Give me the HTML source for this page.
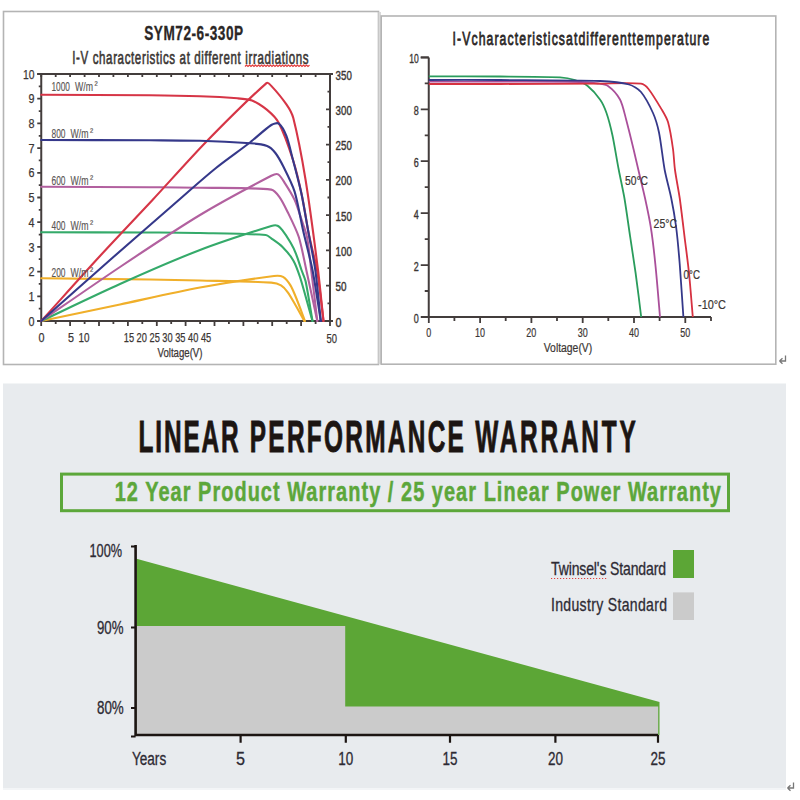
<!DOCTYPE html>
<html><head><meta charset="utf-8"><style>
html,body{margin:0;padding:0;width:800px;height:800px;overflow:hidden;background:#fff;position:relative}
</style></head><body>
<svg width="800" height="800" viewBox="0 0 800 800" style="position:absolute;left:0;top:0">
<rect x="0" y="0" width="800" height="800" fill="#ffffff"/>
<rect x="3.5" y="11.5" width="375" height="353" fill="#fff" stroke="#b4b4b4" stroke-width="1.6"/>
<rect x="378.5" y="12" width="2.5" height="352" fill="#d9d9d9"/>
<rect x="381.2" y="16" width="394.6" height="348.2" fill="#fff" stroke="#b4b4b4" stroke-width="1.6"/>
<rect x="3" y="383.5" width="783" height="404.5" fill="#e8ebee"/>
<rect x="3" y="788" width="783" height="2" fill="#f3f5f7"/>
<g stroke="#433d3c" stroke-width="2.0" fill="none">
<path d="M41.25,74.0 V321.0 M37.25,74.0 H333.0 M37.25,321.0 H333.0 M330.0,74.0 V321.0"/>
</g>
<path d="M41.2,74.0 v3 M41.2,321.0 v5 M55.7,74.0 v3 M55.7,321.0 v3 M70.1,74.0 v3 M70.1,321.0 v5 M84.6,74.0 v3 M84.6,321.0 v3 M99.0,74.0 v3 M99.0,321.0 v5 M113.4,74.0 v3 M113.4,321.0 v3 M127.9,74.0 v3 M127.9,321.0 v5 M142.3,74.0 v3 M142.3,321.0 v3 M156.8,74.0 v3 M156.8,321.0 v5 M171.2,74.0 v3 M171.2,321.0 v3 M185.6,74.0 v3 M185.6,321.0 v5 M200.1,74.0 v3 M200.1,321.0 v3 M214.5,74.0 v3 M214.5,321.0 v5 M228.9,74.0 v3 M228.9,321.0 v3 M243.4,74.0 v3 M243.4,321.0 v5 M257.8,74.0 v3 M257.8,321.0 v3 M272.2,74.0 v3 M272.2,321.0 v5 M286.7,74.0 v3 M286.7,321.0 v3 M301.1,74.0 v3 M301.1,321.0 v5 M315.6,74.0 v3 M315.6,321.0 v3 M330.0,74.0 v3 M330.0,321.0 v5 M37.25,321.0 h4 M38.75,308.6 h2.5 M37.25,296.3 h4 M38.75,283.9 h2.5 M37.25,271.6 h4 M38.75,259.2 h2.5 M37.25,246.9 h4 M38.75,234.6 h2.5 M37.25,222.2 h4 M38.75,209.8 h2.5 M37.25,197.5 h4 M38.75,185.2 h2.5 M37.25,172.8 h4 M38.75,160.4 h2.5 M37.25,148.1 h4 M38.75,135.8 h2.5 M37.25,123.4 h4 M38.75,111.1 h2.5 M37.25,98.7 h4 M38.75,86.3 h2.5 M37.25,74.0 h4 M326.0,321.0 h4 M327.5,303.4 h2.5 M326.0,285.7 h4 M327.5,268.1 h2.5 M326.0,250.4 h4 M327.5,232.8 h2.5 M326.0,215.1 h4 M327.5,197.5 h2.5 M326.0,179.9 h4 M327.5,162.2 h2.5 M326.0,144.6 h4 M327.5,126.9 h2.5 M326.0,109.3 h4 M327.5,91.6 h2.5 M326.0,74.0 h4" stroke="#433d3c" stroke-width="1.8" fill="none"/>
<defs><filter id="bl" x="-5%" y="-5%" width="110%" height="110%"><feGaussianBlur stdDeviation="0.4"/></filter><filter id="bl2" x="-5%" y="-5%" width="110%" height="110%"><feGaussianBlur stdDeviation="0.35"/></filter></defs>
<g fill="none" stroke-width="2.1" stroke-linejoin="round" stroke-linecap="round" filter="url(#bl)">
<path d="M41.2,321.0 C62.0,316.6 99.2,308.9 120.0,304.5 C141.1,300.0 178.8,291.4 200.0,287.5 C219.4,283.9 254.4,278.5 274.0,276.0 C276.4,275.7 280.9,275.7 283.0,276.9 C285.6,278.4 288.9,282.8 290.5,285.4 C292.7,289.0 295.4,296.1 297.0,300.0 C299.2,305.5 302.9,315.5 305.0,321.0" stroke="#f0af2a"/>
<path d="M41.2,278.3 C70.0,278.6 121.3,279.1 150.0,279.5 C163.2,279.7 186.8,280.2 200.0,280.5 C218.8,281.0 252.5,281.5 271.3,282.6 C274.0,282.8 278.7,284.0 281.0,285.4 C283.2,286.7 286.3,290.2 287.8,292.3 C290.3,295.7 293.9,302.3 296.0,306.0 C298.3,309.9 302.1,317.0 304.3,321.0" stroke="#f0af2a"/>
<path d="M41.2,321.0 C62.0,311.2 99.0,293.4 120.0,284.0 C140.9,274.6 178.6,258.2 200.0,250.0 C218.5,242.9 252.3,231.9 271.3,226.0 C272.9,225.5 276.0,225.1 277.5,225.7 C279.1,226.3 281.2,228.8 282.3,230.2 C284.7,233.3 288.5,239.1 290.5,242.5 C292.2,245.4 294.8,250.7 296.0,253.8 C297.7,258.0 300.0,265.7 301.5,270.0 C302.5,273.0 304.9,278.2 305.6,281.3 C307.8,291.7 310.7,310.5 312.5,321.0" stroke="#34aa6a"/>
<path d="M41.2,232.3 C70.0,232.4 121.3,232.4 150.0,232.5 C163.2,232.6 186.8,232.7 200.0,233.0 C217.4,233.4 248.5,233.7 265.8,235.0 C267.5,235.1 269.9,237.4 271.3,238.4 C274.3,240.5 279.7,244.1 282.3,246.7 C285.6,250.0 291.0,256.4 293.3,260.4 C295.7,264.5 298.5,272.5 300.0,277.0 C302.9,286.0 307.2,302.4 309.8,311.5 C310.5,314.0 311.8,318.5 312.5,321.0" stroke="#34aa6a"/>
<path d="M41.2,321.0 C62.0,306.7 99.0,281.0 120.0,267.0 C140.9,253.0 178.4,228.0 200.0,215.0 C218.4,203.9 252.2,185.7 271.3,175.8 C272.9,175.0 276.5,173.5 278.1,174.4 C280.7,175.9 283.4,180.9 285.0,183.4 C287.7,187.6 292.5,195.3 294.6,199.9 C296.7,204.5 299.4,213.2 301.0,218.0 C302.7,223.0 306.0,231.8 307.0,237.0 C308.7,245.6 310.1,261.3 311.2,270.0 C312.9,283.5 315.7,307.5 317.3,321.0" stroke="#b2619f"/>
<path d="M41.2,186.8 C70.0,186.9 121.3,187.0 150.0,187.2 C163.2,187.3 186.8,187.4 200.0,187.7 C218.8,188.1 252.6,187.4 271.3,189.6 C274.2,189.9 277.8,194.7 279.5,197.1 C282.2,200.8 285.8,208.2 287.8,212.3 C290.9,218.7 296.6,230.2 298.8,237.0 C301.5,245.5 304.4,261.3 306.3,270.0 C309.3,283.5 314.4,307.5 317.3,321.0" stroke="#b2619f"/>
<path d="M41.2,321.0 C56.8,303.8 84.3,273.0 100.0,256.0 C113.7,241.1 138.7,214.8 152.5,200.0 C166.7,184.7 191.5,156.9 206.0,142.0 C221.6,126.0 249.8,97.8 266.5,83.1 C267.4,82.3 269.8,84.2 270.6,85.1 C275.1,89.9 282.7,99.0 286.4,104.4 C288.7,107.7 292.3,114.2 293.3,118.1 C297.4,134.2 302.9,163.6 305.6,180.0 C309.4,203.7 315.0,246.2 318.0,270.0 C319.7,283.4 322.0,307.5 323.5,321.0" stroke="#d63646"/>
<path d="M41.2,94.7 C70.0,94.9 121.3,95.0 150.0,95.3 C163.2,95.4 186.8,95.8 200.0,96.3 C209.9,96.6 227.6,97.5 237.5,98.3 C241.4,98.6 248.4,99.1 252.0,100.5 C256.4,102.2 263.5,106.9 267.1,109.9 C270.7,112.9 276.7,118.9 278.8,123.0 C283.6,132.3 289.8,150.0 293.0,160.0 C296.0,169.3 300.0,186.4 302.0,196.0 C304.2,206.2 306.9,224.7 309.0,235.0 C310.9,244.3 315.4,260.7 317.0,270.0 C319.3,283.4 321.8,307.5 323.5,321.0" stroke="#d63646"/>
<path d="M41.2,321.0 C59.4,304.9 91.8,276.0 110.0,260.0 C128.1,244.1 160.6,215.8 178.8,200.0 C188.5,191.5 205.9,176.1 216.0,168.0 C224.7,161.0 241.1,149.4 250.0,142.5 C255.7,138.0 265.2,129.0 271.3,125.0 C273.0,123.9 277.2,122.4 278.8,123.6 C281.9,125.9 285.0,132.4 286.4,136.0 C288.8,142.1 291.3,153.6 293.0,160.0 C295.3,169.0 299.6,185.0 301.5,194.0 C303.5,203.4 306.3,220.5 308.0,230.0 C309.9,240.6 313.8,259.4 315.3,270.0 C317.2,283.4 319.3,307.5 320.8,321.0" stroke="#36398a"/>
<path d="M41.2,140.0 C70.0,140.1 121.3,140.2 150.0,140.3 C163.2,140.4 186.8,140.4 200.0,140.8 C213.4,141.1 237.3,142.3 250.6,143.3 C255.0,143.6 263.0,144.4 267.1,146.0 C269.8,147.0 273.6,150.7 275.4,153.0 C278.0,156.4 281.7,163.2 283.6,167.0 C286.8,173.4 292.5,184.8 294.6,191.6 C297.7,201.5 300.7,219.9 303.0,230.0 C305.4,240.6 310.4,259.3 312.5,270.0 C315.1,283.4 318.6,307.5 320.8,321.0" stroke="#36398a"/>
</g>
<text transform="translate(144.2,40.2) scale(0.7,1)" x="0" y="0" font-family='"Liberation Sans", sans-serif' font-size="19.5" font-weight="bold" fill="#2b2726" text-anchor="start" textLength="141.43" lengthAdjust="spacing" stroke="#2b2726" stroke-width="0.3">SYM72-6-330P</text>
<text transform="translate(72.2,63.5) scale(0.66,1)" x="0" y="0" font-family='"Liberation Sans", sans-serif' font-size="17.5" font-weight="normal" fill="#3a3634" text-anchor="start" textLength="358.18" lengthAdjust="spacing" stroke="#3a3634" stroke-width="0.6">I-V characteristics at different irradiations</text>
<path d="M245,66.5 l1.5,-1.4 l1.5,1.4 l1.5,-1.4 l1.5,1.4 l1.5,-1.4 l1.5,1.4 l1.5,-1.4 l1.5,1.4 l1.5,-1.4 l1.5,1.4 l1.5,-1.4 l1.5,1.4 l1.5,-1.4 l1.5,1.4 l1.5,-1.4 l1.5,1.4 l1.5,-1.4 l1.5,1.4 l1.5,-1.4 l1.5,1.4 l1.5,-1.4 l1.5,1.4 l1.5,-1.4 l1.5,1.4 l1.5,-1.4 l1.5,1.4 l1.5,-1.4 l1.5,1.4 l1.5,-1.4 l1.5,1.4 l1.5,-1.4 l1.5,1.4 l1.5,-1.4 l1.5,1.4 l1.5,-1.4 l1.5,1.4 l1.5,-1.4 l1.5,1.4 l1.5,-1.4 l1.5,1.4 l1.5,-1.4 l1.5,1.4 l1.5,-1.4" stroke="#e23a3a" stroke-width="1.2" fill="none"/>
<text x="34.5" y="325.6" font-family='"Liberation Sans", sans-serif' font-size="12.5" font-weight="normal" fill="#3b3634" text-anchor="end" textLength="6" lengthAdjust="spacingAndGlyphs" stroke="#3b3634" stroke-width="0.25">0</text>
<text x="34.5" y="300.90000000000003" font-family='"Liberation Sans", sans-serif' font-size="12.5" font-weight="normal" fill="#3b3634" text-anchor="end" textLength="6" lengthAdjust="spacingAndGlyphs" stroke="#3b3634" stroke-width="0.25">1</text>
<text x="34.5" y="276.20000000000005" font-family='"Liberation Sans", sans-serif' font-size="12.5" font-weight="normal" fill="#3b3634" text-anchor="end" textLength="6" lengthAdjust="spacingAndGlyphs" stroke="#3b3634" stroke-width="0.25">2</text>
<text x="34.5" y="251.5" font-family='"Liberation Sans", sans-serif' font-size="12.5" font-weight="normal" fill="#3b3634" text-anchor="end" textLength="6" lengthAdjust="spacingAndGlyphs" stroke="#3b3634" stroke-width="0.25">3</text>
<text x="34.5" y="226.79999999999998" font-family='"Liberation Sans", sans-serif' font-size="12.5" font-weight="normal" fill="#3b3634" text-anchor="end" textLength="6" lengthAdjust="spacingAndGlyphs" stroke="#3b3634" stroke-width="0.25">4</text>
<text x="34.5" y="202.1" font-family='"Liberation Sans", sans-serif' font-size="12.5" font-weight="normal" fill="#3b3634" text-anchor="end" textLength="6" lengthAdjust="spacingAndGlyphs" stroke="#3b3634" stroke-width="0.25">5</text>
<text x="34.5" y="177.4" font-family='"Liberation Sans", sans-serif' font-size="12.5" font-weight="normal" fill="#3b3634" text-anchor="end" textLength="6" lengthAdjust="spacingAndGlyphs" stroke="#3b3634" stroke-width="0.25">6</text>
<text x="34.5" y="152.7" font-family='"Liberation Sans", sans-serif' font-size="12.5" font-weight="normal" fill="#3b3634" text-anchor="end" textLength="6" lengthAdjust="spacingAndGlyphs" stroke="#3b3634" stroke-width="0.25">7</text>
<text x="34.5" y="128.0" font-family='"Liberation Sans", sans-serif' font-size="12.5" font-weight="normal" fill="#3b3634" text-anchor="end" textLength="6" lengthAdjust="spacingAndGlyphs" stroke="#3b3634" stroke-width="0.25">8</text>
<text x="34.5" y="103.29999999999998" font-family='"Liberation Sans", sans-serif' font-size="12.5" font-weight="normal" fill="#3b3634" text-anchor="end" textLength="6" lengthAdjust="spacingAndGlyphs" stroke="#3b3634" stroke-width="0.25">9</text>
<text x="34.5" y="78.6" font-family='"Liberation Sans", sans-serif' font-size="12.5" font-weight="normal" fill="#3b3634" text-anchor="end" textLength="11.5" lengthAdjust="spacingAndGlyphs" stroke="#3b3634" stroke-width="0.25">10</text>
<text x="335.6" y="326.5" font-family='"Liberation Sans", sans-serif' font-size="12.5" font-weight="normal" fill="#3b3634" text-anchor="start" textLength="6" lengthAdjust="spacingAndGlyphs" stroke="#3b3634" stroke-width="0.4">0</text>
<text x="335.6" y="291.2142857142857" font-family='"Liberation Sans", sans-serif' font-size="12.5" font-weight="normal" fill="#3b3634" text-anchor="start" textLength="11" lengthAdjust="spacingAndGlyphs" stroke="#3b3634" stroke-width="0.4">50</text>
<text x="335.6" y="255.92857142857144" font-family='"Liberation Sans", sans-serif' font-size="12.5" font-weight="normal" fill="#3b3634" text-anchor="start" textLength="16.2" lengthAdjust="spacingAndGlyphs" stroke="#3b3634" stroke-width="0.4">100</text>
<text x="335.6" y="220.64285714285714" font-family='"Liberation Sans", sans-serif' font-size="12.5" font-weight="normal" fill="#3b3634" text-anchor="start" textLength="16.2" lengthAdjust="spacingAndGlyphs" stroke="#3b3634" stroke-width="0.4">150</text>
<text x="335.6" y="185.35714285714286" font-family='"Liberation Sans", sans-serif' font-size="12.5" font-weight="normal" fill="#3b3634" text-anchor="start" textLength="16.2" lengthAdjust="spacingAndGlyphs" stroke="#3b3634" stroke-width="0.4">200</text>
<text x="335.6" y="150.07142857142858" font-family='"Liberation Sans", sans-serif' font-size="12.5" font-weight="normal" fill="#3b3634" text-anchor="start" textLength="16.2" lengthAdjust="spacingAndGlyphs" stroke="#3b3634" stroke-width="0.4">250</text>
<text x="335.6" y="114.78571428571428" font-family='"Liberation Sans", sans-serif' font-size="12.5" font-weight="normal" fill="#3b3634" text-anchor="start" textLength="16.2" lengthAdjust="spacingAndGlyphs" stroke="#3b3634" stroke-width="0.4">300</text>
<text x="335.6" y="79.5" font-family='"Liberation Sans", sans-serif' font-size="12.5" font-weight="normal" fill="#3b3634" text-anchor="start" textLength="16.2" lengthAdjust="spacingAndGlyphs" stroke="#3b3634" stroke-width="0.4">350</text>
<text x="41.5" y="341.5" font-family='"Liberation Sans", sans-serif' font-size="12.5" font-weight="normal" fill="#3b3634" text-anchor="middle" textLength="6" lengthAdjust="spacingAndGlyphs" stroke="#3b3634" stroke-width="0.25">0</text>
<text x="71" y="341.5" font-family='"Liberation Sans", sans-serif' font-size="12.5" font-weight="normal" fill="#3b3634" text-anchor="middle" textLength="6" lengthAdjust="spacingAndGlyphs" stroke="#3b3634" stroke-width="0.25">5</text>
<text x="84" y="341.5" font-family='"Liberation Sans", sans-serif' font-size="12.5" font-weight="normal" fill="#3b3634" text-anchor="middle" textLength="11" lengthAdjust="spacingAndGlyphs" stroke="#3b3634" stroke-width="0.25">10</text>
<text x="123.75" y="341.5" font-family='"Liberation Sans", sans-serif' font-size="12.5" font-weight="normal" fill="#3b3634" text-anchor="start" textLength="87.5" lengthAdjust="spacingAndGlyphs" stroke="#3b3634" stroke-width="0.25">15 20 25 30 35 40 45</text>
<text x="331.8" y="342.5" font-family='"Liberation Sans", sans-serif' font-size="12.5" font-weight="normal" fill="#3b3634" text-anchor="middle" textLength="10.5" lengthAdjust="spacingAndGlyphs" stroke="#3b3634" stroke-width="0.25">50</text>
<text x="157.5" y="356.5" font-family='"Liberation Sans", sans-serif' font-size="12.5" font-weight="normal" fill="#3b3634" text-anchor="start" textLength="45" lengthAdjust="spacingAndGlyphs" stroke="#3b3634" stroke-width="0.25">Voltage(V)</text>
<text x="51.5" y="91" font-family='"Liberation Sans", sans-serif' font-size="12" font-weight="normal" fill="#5a5655" text-anchor="start" textLength="18.5" lengthAdjust="spacingAndGlyphs" stroke="#5a5655" stroke-width="0.15">1000</text>
<text x="75.0" y="91" font-family='"Liberation Sans", sans-serif' font-size="12" font-weight="normal" fill="#5a5655" text-anchor="start" textLength="18" lengthAdjust="spacingAndGlyphs" stroke="#5a5655" stroke-width="0.15">W/m</text>
<text x="94.5" y="88.3" font-family='"Liberation Sans", sans-serif' font-size="9.5" font-weight="normal" fill="#5a5655" text-anchor="start" stroke="#5a5655" stroke-width="0.2">²</text>
<text x="51.5" y="137.75" font-family='"Liberation Sans", sans-serif' font-size="12" font-weight="normal" fill="#5a5655" text-anchor="start" textLength="14" lengthAdjust="spacingAndGlyphs" stroke="#5a5655" stroke-width="0.15">800</text>
<text x="70.5" y="137.75" font-family='"Liberation Sans", sans-serif' font-size="12" font-weight="normal" fill="#5a5655" text-anchor="start" textLength="18" lengthAdjust="spacingAndGlyphs" stroke="#5a5655" stroke-width="0.15">W/m</text>
<text x="90.0" y="135.05" font-family='"Liberation Sans", sans-serif' font-size="9.5" font-weight="normal" fill="#5a5655" text-anchor="start" stroke="#5a5655" stroke-width="0.2">²</text>
<text x="51.5" y="185" font-family='"Liberation Sans", sans-serif' font-size="12" font-weight="normal" fill="#5a5655" text-anchor="start" textLength="14" lengthAdjust="spacingAndGlyphs" stroke="#5a5655" stroke-width="0.15">600</text>
<text x="70.5" y="185" font-family='"Liberation Sans", sans-serif' font-size="12" font-weight="normal" fill="#5a5655" text-anchor="start" textLength="18" lengthAdjust="spacingAndGlyphs" stroke="#5a5655" stroke-width="0.15">W/m</text>
<text x="90.0" y="182.3" font-family='"Liberation Sans", sans-serif' font-size="9.5" font-weight="normal" fill="#5a5655" text-anchor="start" stroke="#5a5655" stroke-width="0.2">²</text>
<text x="51.5" y="229.5" font-family='"Liberation Sans", sans-serif' font-size="12" font-weight="normal" fill="#5a5655" text-anchor="start" textLength="14" lengthAdjust="spacingAndGlyphs" stroke="#5a5655" stroke-width="0.15">400</text>
<text x="70.5" y="229.5" font-family='"Liberation Sans", sans-serif' font-size="12" font-weight="normal" fill="#5a5655" text-anchor="start" textLength="18" lengthAdjust="spacingAndGlyphs" stroke="#5a5655" stroke-width="0.15">W/m</text>
<text x="90.0" y="226.8" font-family='"Liberation Sans", sans-serif' font-size="9.5" font-weight="normal" fill="#5a5655" text-anchor="start" stroke="#5a5655" stroke-width="0.2">²</text>
<text x="51.5" y="276.5" font-family='"Liberation Sans", sans-serif' font-size="12" font-weight="normal" fill="#5a5655" text-anchor="start" textLength="14" lengthAdjust="spacingAndGlyphs" stroke="#5a5655" stroke-width="0.15">200</text>
<text x="70.5" y="276.5" font-family='"Liberation Sans", sans-serif' font-size="12" font-weight="normal" fill="#5a5655" text-anchor="start" textLength="18" lengthAdjust="spacingAndGlyphs" stroke="#5a5655" stroke-width="0.15">W/m</text>
<text x="90.0" y="273.8" font-family='"Liberation Sans", sans-serif' font-size="9.5" font-weight="normal" fill="#5a5655" text-anchor="start" stroke="#5a5655" stroke-width="0.2">²</text>
<path d="M428.75,57.4 V317.0 H711.0 M420.75,57.4 H428.75" stroke="#433d3c" stroke-width="2" fill="none"/>
<path d="M420.75,317.0 H428.75 M424.75,291.0 H428.75 M420.75,265.1 H428.75 M424.75,239.1 H428.75 M420.75,213.2 H428.75 M424.75,187.2 H428.75 M420.75,161.2 H428.75 M424.75,135.3 H428.75 M420.75,109.3 H428.75 M424.75,83.4 H428.75 M420.75,57.4 H428.75 M428.8,317.0 v6 M454.4,317.0 v4 M480.1,317.0 v6 M505.7,317.0 v4 M531.4,317.0 v6 M557.0,317.0 v4 M582.7,317.0 v6 M608.3,317.0 v4 M634.0,317.0 v6 M659.6,317.0 v4 M685.3,317.0 v6 M711.0,317.0 v4" stroke="#433d3c" stroke-width="1.8" fill="none"/>
<text x="418.8" y="322.6" font-family='"Liberation Sans", sans-serif' font-size="12" font-weight="normal" fill="#3b3634" text-anchor="end" textLength="5" lengthAdjust="spacingAndGlyphs" stroke="#3b3634" stroke-width="0.35">0</text>
<text x="418.8" y="270.68" font-family='"Liberation Sans", sans-serif' font-size="12" font-weight="normal" fill="#3b3634" text-anchor="end" textLength="5" lengthAdjust="spacingAndGlyphs" stroke="#3b3634" stroke-width="0.35">2</text>
<text x="418.8" y="218.76" font-family='"Liberation Sans", sans-serif' font-size="12" font-weight="normal" fill="#3b3634" text-anchor="end" textLength="5" lengthAdjust="spacingAndGlyphs" stroke="#3b3634" stroke-width="0.35">4</text>
<text x="418.8" y="166.83999999999997" font-family='"Liberation Sans", sans-serif' font-size="12" font-weight="normal" fill="#3b3634" text-anchor="end" textLength="5" lengthAdjust="spacingAndGlyphs" stroke="#3b3634" stroke-width="0.35">6</text>
<text x="418.8" y="114.91999999999999" font-family='"Liberation Sans", sans-serif' font-size="12" font-weight="normal" fill="#3b3634" text-anchor="end" textLength="5" lengthAdjust="spacingAndGlyphs" stroke="#3b3634" stroke-width="0.35">8</text>
<text x="418.8" y="62.99999999999998" font-family='"Liberation Sans", sans-serif' font-size="12" font-weight="normal" fill="#3b3634" text-anchor="end" textLength="9.5" lengthAdjust="spacingAndGlyphs" stroke="#3b3634" stroke-width="0.35">10</text>
<text x="428.75" y="337" font-family='"Liberation Sans", sans-serif' font-size="12" font-weight="normal" fill="#3b3634" text-anchor="middle" textLength="5" lengthAdjust="spacingAndGlyphs" stroke="#3b3634" stroke-width="0.2">0</text>
<text x="480.06" y="337" font-family='"Liberation Sans", sans-serif' font-size="12" font-weight="normal" fill="#3b3634" text-anchor="middle" textLength="10" lengthAdjust="spacingAndGlyphs" stroke="#3b3634" stroke-width="0.2">10</text>
<text x="531.37" y="337" font-family='"Liberation Sans", sans-serif' font-size="12" font-weight="normal" fill="#3b3634" text-anchor="middle" textLength="10" lengthAdjust="spacingAndGlyphs" stroke="#3b3634" stroke-width="0.2">20</text>
<text x="582.68" y="337" font-family='"Liberation Sans", sans-serif' font-size="12" font-weight="normal" fill="#3b3634" text-anchor="middle" textLength="10" lengthAdjust="spacingAndGlyphs" stroke="#3b3634" stroke-width="0.2">30</text>
<text x="633.99" y="337" font-family='"Liberation Sans", sans-serif' font-size="12" font-weight="normal" fill="#3b3634" text-anchor="middle" textLength="10" lengthAdjust="spacingAndGlyphs" stroke="#3b3634" stroke-width="0.2">40</text>
<text x="685.3" y="337" font-family='"Liberation Sans", sans-serif' font-size="12" font-weight="normal" fill="#3b3634" text-anchor="middle" textLength="10" lengthAdjust="spacingAndGlyphs" stroke="#3b3634" stroke-width="0.2">50</text>
<text x="543.75" y="352" font-family='"Liberation Sans", sans-serif' font-size="12" font-weight="normal" fill="#3b3634" text-anchor="start" textLength="48.5" lengthAdjust="spacingAndGlyphs" stroke="#3b3634" stroke-width="0.2">Voltage(V)</text>
<text transform="translate(452.5,45.4) scale(0.68,1)" x="0" y="0" font-family='"Liberation Sans", sans-serif' font-size="18" font-weight="normal" fill="#2b2726" text-anchor="start" textLength="377.65" lengthAdjust="spacing" stroke="#2b2726" stroke-width="0.75">I-Vcharacteristicsatdifferenttemperature</text>
<g fill="none" stroke-width="1.8" stroke-linejoin="round" filter="url(#bl2)">
<path d="M428.8,76.4 C447.6,76.4 481.2,76.4 500.0,76.5 C515.8,76.6 544.2,76.6 560.0,77.3 C564.0,77.5 571.2,78.8 575.0,80.0 C578.5,81.1 584.8,83.7 587.7,86.0 C591.5,89.0 597.2,95.5 600.0,99.5 C602.3,102.7 605.2,109.3 606.5,113.0 C608.5,118.8 611.2,129.5 612.5,135.5 C614.4,144.5 617.0,160.9 618.8,170.0 C620.2,177.4 623.1,190.6 624.4,198.0 C626.1,207.9 628.5,225.7 630.0,235.6 C631.5,245.5 634.2,263.1 635.6,273.0 C637.2,284.6 639.8,305.4 641.2,317.0" stroke="#2a9c5c"/>
<path d="M428.8,81.6 C447.6,81.6 481.2,81.6 500.0,81.6 C521.1,81.7 558.9,81.6 580.0,82.0 C584.8,82.1 593.3,82.8 598.0,83.5 C600.7,83.9 605.8,84.4 608.0,86.0 C611.9,88.8 617.7,95.3 620.0,99.5 C622.6,104.2 624.6,113.8 626.0,119.0 C628.1,126.9 631.6,141.1 633.5,149.0 C634.8,154.5 637.1,164.5 638.4,170.0 C640.1,177.4 643.4,190.6 645.0,198.0 C646.6,205.4 649.4,218.6 650.6,226.0 C652.2,235.9 654.3,253.8 655.3,263.8 C656.8,277.8 658.8,302.9 660.0,317.0" stroke="#aa509a"/>
<path d="M428.8,84.0 C447.6,84.0 481.2,84.0 500.0,84.0 C526.4,83.9 573.6,83.7 600.0,83.6 C610.8,83.6 630.2,82.5 641.0,83.7 C643.4,84.0 647.0,87.1 648.5,89.0 C652.6,94.2 658.6,104.3 662.0,110.0 C663.8,113.0 667.0,118.6 668.0,122.0 C670.0,129.0 672.0,141.8 673.0,149.0 C673.8,154.5 674.2,164.5 675.0,170.0 C676.0,177.4 678.6,190.6 679.7,198.0 C681.1,207.9 683.2,225.7 684.4,235.6 C685.6,245.5 688.0,263.1 689.0,273.0 C690.2,284.6 691.8,305.4 692.8,317.0" stroke="#d63040"/>
<path d="M428.8,80.0 C447.6,80.0 481.2,79.9 500.0,80.0 C526.4,80.2 573.6,80.1 600.0,81.0 C607.7,81.3 621.6,82.5 629.0,84.5 C632.6,85.5 638.6,89.1 641.0,92.0 C645.1,96.9 650.4,107.2 653.0,113.0 C655.2,117.9 657.9,127.2 659.0,132.5 C661.0,142.3 662.9,160.2 664.7,170.0 C666.1,177.5 669.7,190.6 671.2,198.0 C672.7,205.3 675.0,218.6 676.0,226.0 C677.3,235.9 678.9,253.8 679.7,263.8 C680.8,277.8 682.4,302.9 683.4,317.0" stroke="#36398a"/>
</g>
<text x="625" y="185" font-family='"Liberation Sans", sans-serif' font-size="12.5" font-weight="normal" fill="#3b3634" text-anchor="start" textLength="23" lengthAdjust="spacingAndGlyphs" stroke="#3b3634" stroke-width="0.2">50°C</text>
<text x="653.6" y="228" font-family='"Liberation Sans", sans-serif' font-size="12.5" font-weight="normal" fill="#3b3634" text-anchor="start" textLength="23.4" lengthAdjust="spacingAndGlyphs" stroke="#3b3634" stroke-width="0.2">25°C</text>
<text x="683.6" y="279" font-family='"Liberation Sans", sans-serif' font-size="12.5" font-weight="normal" fill="#3b3634" text-anchor="start" textLength="16.4" lengthAdjust="spacingAndGlyphs" stroke="#3b3634" stroke-width="0.2">0°C</text>
<text x="698" y="309" font-family='"Liberation Sans", sans-serif' font-size="12.5" font-weight="normal" fill="#3b3634" text-anchor="start" textLength="28" lengthAdjust="spacingAndGlyphs" stroke="#3b3634" stroke-width="0.2">-10°C</text>
<path d="M785.5,355.5 v5.5 h-6 M779.5,361.0 l3,-2.7 M779.5,361.0 l3,2.7" stroke="#777" stroke-width="1.3" fill="none"/>
<path d="M793.5,782.5 v5.5 h-6 M787.5,788.0 l3,-2.7 M787.5,788.0 l3,2.7" stroke="#777" stroke-width="1.3" fill="none"/>
<text transform="translate(138.6,452.1) scale(0.56,1)" x="0" y="0" font-family='"Liberation Sans", sans-serif' font-size="43.5" font-weight="bold" fill="#1c1512" text-anchor="start" textLength="178.57" lengthAdjust="spacing" stroke="#1c1512" stroke-width="0.9">LINEAR</text>
<text transform="translate(249.8,452.1) scale(0.56,1)" x="0" y="0" font-family='"Liberation Sans", sans-serif' font-size="43.5" font-weight="bold" fill="#1c1512" text-anchor="start" textLength="382.14" lengthAdjust="spacing" stroke="#1c1512" stroke-width="0.9">PERFORMANCE</text>
<text transform="translate(475.2,452.1) scale(0.56,1)" x="0" y="0" font-family='"Liberation Sans", sans-serif' font-size="43.5" font-weight="bold" fill="#1c1512" text-anchor="start" textLength="286.61" lengthAdjust="spacing" stroke="#1c1512" stroke-width="0.9">WARRANTY</text>
<rect x="61.5" y="474.1" width="667" height="36.6" fill="none" stroke="#5ca73a" stroke-width="3"/>
<text transform="translate(114.7,501) scale(0.7,1)" x="0" y="0" font-family='"Liberation Sans", sans-serif' font-size="28.5" font-weight="bold" fill="#5ca73a" text-anchor="start" textLength="866.00" lengthAdjust="spacing" stroke="#5ca73a" stroke-width="0.5">12 Year Product Warranty / 25 year Linear Power Warranty</text>
<polygon points="136.5,558.8 659.5,702 659.5,735 136.5,735" fill="#5ca636"/>
<polygon points="136.5,626 345.2,626 345.2,706.6 658.2,706.6 658.2,735 136.5,735" fill="#cbcbcb"/>
<path d="M135.6,545 V735 H658" stroke="#1c1512" stroke-width="2.6" fill="none"/>
<path d="M131,546.5 H135.6 M131,627.5 H135.6 M131,708 H135.6 M131,736.5 H135.6 M240.6,735 V742.8 M345.8,735 V742.8 M450.0,735 V742.8 M555.4,735 V742.8 M658.0,735 V742.8" stroke="#1c1512" stroke-width="2.2" fill="none"/>
<text x="122" y="556.5" font-family='"Liberation Sans", sans-serif' font-size="18" font-weight="normal" fill="#2d2a33" text-anchor="end" textLength="32.5" lengthAdjust="spacingAndGlyphs" stroke="#2d2a33" stroke-width="0.3">100%</text>
<text x="123.5" y="634" font-family='"Liberation Sans", sans-serif' font-size="18" font-weight="normal" fill="#2d2a33" text-anchor="end" textLength="26.5" lengthAdjust="spacingAndGlyphs" stroke="#2d2a33" stroke-width="0.3">90%</text>
<text x="123.75" y="713.75" font-family='"Liberation Sans", sans-serif' font-size="18" font-weight="normal" fill="#2d2a33" text-anchor="end" textLength="26.8" lengthAdjust="spacingAndGlyphs" stroke="#2d2a33" stroke-width="0.3">80%</text>
<text x="131.9" y="765" font-family='"Liberation Sans", sans-serif' font-size="18" font-weight="normal" fill="#2d2a33" text-anchor="start" textLength="34.3" lengthAdjust="spacingAndGlyphs" stroke="#2d2a33" stroke-width="0.3">Years</text>
<text x="240.6" y="765" font-family='"Liberation Sans", sans-serif' font-size="18" font-weight="normal" fill="#2d2a33" text-anchor="middle" textLength="9" lengthAdjust="spacingAndGlyphs" stroke="#2d2a33" stroke-width="0.3">5</text>
<text x="345.8" y="765" font-family='"Liberation Sans", sans-serif' font-size="18" font-weight="normal" fill="#2d2a33" text-anchor="middle" textLength="15" lengthAdjust="spacingAndGlyphs" stroke="#2d2a33" stroke-width="0.3">10</text>
<text x="450" y="765" font-family='"Liberation Sans", sans-serif' font-size="18" font-weight="normal" fill="#2d2a33" text-anchor="middle" textLength="15" lengthAdjust="spacingAndGlyphs" stroke="#2d2a33" stroke-width="0.3">15</text>
<text x="555.4" y="765" font-family='"Liberation Sans", sans-serif' font-size="18" font-weight="normal" fill="#2d2a33" text-anchor="middle" textLength="15" lengthAdjust="spacingAndGlyphs" stroke="#2d2a33" stroke-width="0.3">20</text>
<text x="658" y="765" font-family='"Liberation Sans", sans-serif' font-size="18" font-weight="normal" fill="#2d2a33" text-anchor="middle" textLength="15" lengthAdjust="spacingAndGlyphs" stroke="#2d2a33" stroke-width="0.3">25</text>
<rect x="673" y="550" width="21" height="28" fill="#5ca636"/>
<rect x="673" y="592.4" width="21" height="27.6" fill="#cbcbcb"/>
<text transform="translate(551,575) scale(0.78,1)" x="0" y="0" font-family='"Liberation Sans", sans-serif' font-size="18" font-weight="normal" fill="#2d2a33" text-anchor="start" textLength="147.44" lengthAdjust="spacing" stroke="#2d2a33" stroke-width="0.3">Twinsel's Standard</text>
<text transform="translate(551,611) scale(0.78,1)" x="0" y="0" font-family='"Liberation Sans", sans-serif' font-size="18" font-weight="normal" fill="#2d2a33" text-anchor="start" textLength="148.72" lengthAdjust="spacing" stroke="#2d2a33" stroke-width="0.3">Industry Standard</text>
<path d="M551,578.5 H607" stroke="#e04040" stroke-width="1" stroke-dasharray="1.2,1.8" fill="none"/>
</svg>
</body></html>
